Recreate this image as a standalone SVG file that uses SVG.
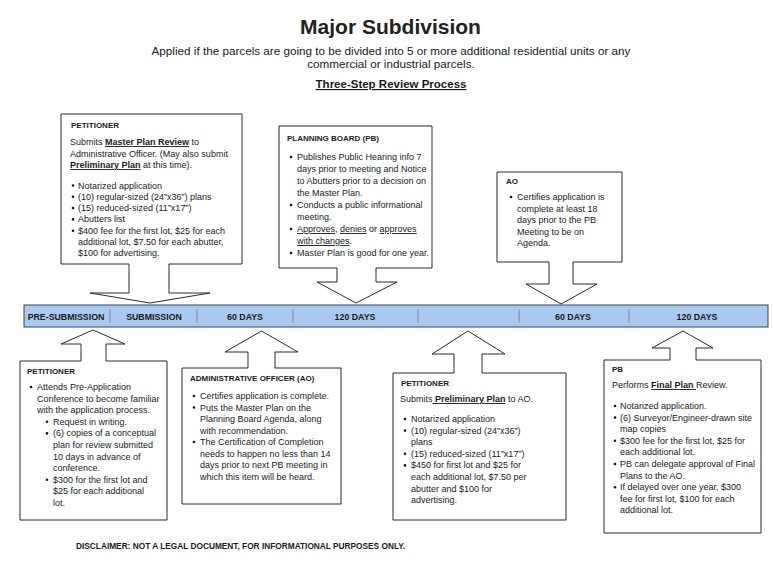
<svg xmlns="http://www.w3.org/2000/svg" width="773" height="576" viewBox="0 0 773 576">
<style>
.box{fill:#fff;stroke:#2a2a2a;stroke-width:1}
.h{font-family:"Liberation Sans",Arial,sans-serif;font-size:8px;font-weight:bold;fill:#1a1a1a}
.t{font-family:"Liberation Sans",Arial,sans-serif;font-size:9px;fill:#1a1a1a}
.bu{font-weight:bold;text-decoration:underline}
.ul{text-decoration:underline}
.dot{fill:#1a1a1a}
.bar{fill:#a9c9ee;stroke:#3a4556;stroke-width:1}
.div{stroke:#6f7c8e;stroke-width:0.8}
.bl{font-family:"Liberation Sans",Arial,sans-serif;font-size:8.8px;font-weight:bold;fill:#1a1a1a;text-anchor:middle}
</style>
<rect width="773" height="576" fill="#fff"/>
<g id="header">
<text x="390.5" y="34" text-anchor="middle" style="font-family:'Liberation Sans',Arial,sans-serif;font-size:21px;font-weight:bold;fill:#222">Major Subdivision</text>
<text x="391" y="55" text-anchor="middle" style="font-family:'Liberation Sans',Arial,sans-serif;font-size:11.7px;fill:#1a1a1a">Applied if the parcels are going to be divided into 5 or more additional residential units or any</text>
<text x="391" y="68" text-anchor="middle" style="font-family:'Liberation Sans',Arial,sans-serif;font-size:11.7px;fill:#1a1a1a">commercial or industrial parcels.</text>
<text x="391" y="88" text-anchor="middle" style="font-family:'Liberation Sans',Arial,sans-serif;font-size:11.5px;font-weight:bold;text-decoration:underline;fill:#1a1a1a">Three-Step Review Process</text>
</g>

<g id="timeline">
<rect class="bar" x="24" y="305" width="744" height="22"/>
<line class="div" x1="110" y1="309" x2="110" y2="323"/>
<line class="div" x1="197" y1="309" x2="197" y2="323"/>
<line class="div" x1="293" y1="309" x2="293" y2="323"/>
<line class="div" x1="418" y1="309" x2="418" y2="323"/>
<line class="div" x1="519" y1="309" x2="519" y2="323"/>
<line class="div" x1="629" y1="309" x2="629" y2="323"/>
<text class="bl" x="66" y="320">PRE-SUBMISSION</text>
<text class="bl" x="154" y="320">SUBMISSION</text>
<text class="bl" x="245" y="320">60 DAYS</text>
<text class="bl" x="355" y="320">120 DAYS</text>
<text class="bl" x="573" y="320">60 DAYS</text>
<text class="bl" x="697" y="320">120 DAYS</text>
</g>

<g id="petitioner-submission">
<path class="box" d="M61,114 H242 V264 H169 V293 H210 L150,303 L90,293 H129 V264 H61 Z"/>
<text class="h" x="71" y="128">PETITIONER</text>
<text class="t" x="70" y="145">Submits <tspan class="bu">Master Plan Review</tspan> to</text>
<text class="t" x="70" y="156.5">Administrative Officer.  (May also submit</text>
<text class="t" x="70" y="168"><tspan class="bu">Preliminary Plan</tspan> at this time).</text>
<circle class="dot" cx="73" cy="185.5" r="1.3"/>
<text class="t" x="78" y="188.5">Notarized application</text>
<circle class="dot" cx="73" cy="196.8" r="1.3"/>
<text class="t" x="78" y="199.8">(10) regular-sized (24”x36”) plans</text>
<circle class="dot" cx="73" cy="208.1" r="1.3"/>
<text class="t" x="78" y="211.1">(15) reduced-sized (11”x17”)</text>
<circle class="dot" cx="73" cy="219.4" r="1.3"/>
<text class="t" x="78" y="222.4">Abutters list</text>
<circle class="dot" cx="73" cy="230.7" r="1.3"/>
<text class="t" x="78" y="233.7">$400 fee for the first lot, $25 for each</text>
<text class="t" x="78" y="245">additional lot, $7.50 for each abutter,</text>
<text class="t" x="78" y="256.3">$100 for advertising.</text>
</g>

<g id="planning-board-review">
<path class="box" d="M279,126 H432 V268 H376 V282 H397 L356,303 L317,282 H337 V268 H279 Z"/>
<text class="h" x="287" y="141">PLANNING BOARD (PB)</text>
<circle class="dot" cx="291" cy="157" r="1.3"/>
<text class="t" x="297" y="160">Publishes Public Hearing info 7</text>
<text class="t" x="297" y="172">days prior to meeting and Notice</text>
<text class="t" x="297" y="184">to Abutters prior to a decision on</text>
<text class="t" x="297" y="196">the Master Plan.</text>
<circle class="dot" cx="291" cy="205" r="1.3"/>
<text class="t" x="297" y="208">Conducts a public informational</text>
<text class="t" x="297" y="220">meeting.</text>
<circle class="dot" cx="291" cy="229" r="1.3"/>
<text class="t" x="297" y="232"><tspan class="ul">Approves</tspan>, <tspan class="ul">denies</tspan> or <tspan class="ul">approves</tspan></text>
<text class="t" x="297" y="244"><tspan class="ul">with changes</tspan>.</text>
<circle class="dot" cx="291" cy="253" r="1.3"/>
<text class="t" x="297" y="256">Master Plan is good for one year.</text>
</g>

<g id="ao-certification">
<path class="box" d="M497,172 H622 V262 H573 V284 H597 L561,304 L526,284 H549 V262 H497 Z"/>
<text class="h" x="506" y="184">AO</text>
<circle class="dot" cx="511" cy="197" r="1.3"/>
<text class="t" x="517" y="200">Certifies application is</text>
<text class="t" x="517" y="211.5">complete at least 18</text>
<text class="t" x="517" y="223">days prior to the PB</text>
<text class="t" x="517" y="234.5">Meeting to be on</text>
<text class="t" x="517" y="246">Agenda.</text>
</g>

<g id="petitioner-pre-application">
<path class="box" d="M20,361 H81 V344 H61 L93,330 L125,344 H106 V361 H167 V520 H20 Z"/>
<text class="h" x="27" y="374">PETITIONER</text>
<circle class="dot" cx="31" cy="387" r="1.3"/>
<text class="t" x="37" y="390">Attends Pre-Application</text>
<text class="t" x="37" y="401.6">Conference to become familiar</text>
<text class="t" x="37" y="413.2">with the application process.</text>
<circle class="dot" cx="47" cy="421.8" r="1.3"/>
<text class="t" x="53" y="424.8">Request in writing.</text>
<circle class="dot" cx="47" cy="433.4" r="1.3"/>
<text class="t" x="53" y="436.4"> (6) copies of a conceptual</text>
<text class="t" x="53" y="448">plan for review submitted</text>
<text class="t" x="53" y="459.6">10 days in advance of</text>
<text class="t" x="53" y="471.2">conference.</text>
<circle class="dot" cx="47" cy="479.8" r="1.3"/>
<text class="t" x="53" y="482.8">$300 for the first lot and</text>
<text class="t" x="53" y="494.4">$25 for each additional</text>
<text class="t" x="53" y="506">lot.</text>
</g>

<g id="ao-completion">
<path class="box" d="M182,368 H248 V352 H225 L261.5,331 L298,352 H275 V368 H341 V504 H182 Z"/>
<text class="h" x="190" y="381">ADMINISTRATIVE OFFICER (AO)</text>
<circle class="dot" cx="194" cy="396" r="1.3"/>
<text class="t" x="200" y="399">Certifies application is complete.</text>
<circle class="dot" cx="194" cy="407.5" r="1.3"/>
<text class="t" x="200" y="410.5">Puts the Master Plan on the</text>
<text class="t" x="200" y="422">Planning Board Agenda, along</text>
<text class="t" x="200" y="433.5">with recommendation.</text>
<circle class="dot" cx="194" cy="442" r="1.3"/>
<text class="t" x="200" y="445">The Certification of Completion</text>
<text class="t" x="200" y="456.5">needs to happen no less than 14</text>
<text class="t" x="200" y="468">days prior to next PB meeting in</text>
<text class="t" x="200" y="479.5">which this item will be heard.</text>
</g>

<g id="petitioner-preliminary">
<path class="box" d="M393,373 H454 V354 H432 L468,331 L505,354 H482 V373 H566 V520 H393 Z"/>
<text class="h" x="401" y="386">PETITIONER</text>
<text class="t" x="400" y="402">Submits<tspan class="bu"> Preliminary Plan</tspan> to AO.</text>
<circle class="dot" cx="405" cy="419" r="1.3"/>
<text class="t" x="411" y="422">Notarized application</text>
<circle class="dot" cx="405" cy="430.6" r="1.3"/>
<text class="t" x="411" y="433.6">(10) regular-sized (24”x36”)</text>
<text class="t" x="411" y="445.2">plans</text>
<circle class="dot" cx="405" cy="453.8" r="1.3"/>
<text class="t" x="411" y="456.8">(15) reduced-sized (11”x17”)</text>
<circle class="dot" cx="405" cy="465.4" r="1.3"/>
<text class="t" x="411" y="468.4">$450 for first lot and $25 for</text>
<text class="t" x="411" y="480">each additional lot, $7.50 per</text>
<text class="t" x="411" y="491.6">abutter and $100 for</text>
<text class="t" x="411" y="503.2">advertising.</text>
</g>

<g id="pb-final">
<path class="box" d="M604,360 H670 V348 H652 L683,331 L713,348 H696 V360 H761 V533 H604 Z"/>
<text class="h" x="612" y="372">PB</text>
<text class="t" x="612" y="388">Performs <tspan class="bu">Final Plan </tspan>Review.</text>
<circle class="dot" cx="615" cy="406" r="1.3"/>
<text class="t" x="620" y="409">Notarized application.</text>
<circle class="dot" cx="615" cy="417.6" r="1.3"/>
<text class="t" x="620" y="420.6">(6) Surveyor/Engineer-drawn site</text>
<text class="t" x="620" y="432.2">map copies</text>
<circle class="dot" cx="615" cy="440.8" r="1.3"/>
<text class="t" x="620" y="443.8">$300 fee for the first lot, $25 for</text>
<text class="t" x="620" y="455.4">each additional lot.</text>
<circle class="dot" cx="615" cy="464" r="1.3"/>
<text class="t" x="620" y="467">PB can delegate approval of Final</text>
<text class="t" x="620" y="478.6">Plans to the AO.</text>
<circle class="dot" cx="615" cy="487.2" r="1.3"/>
<text class="t" x="620" y="490.2">If delayed over one year, $300</text>
<text class="t" x="620" y="501.8">fee for first lot, $100 for each</text>
<text class="t" x="620" y="513.4">additional lot.</text>
</g>

<g id="disclaimer">
<text x="76" y="549" style="font-family:'Liberation Sans',Arial,sans-serif;font-size:8.3px;font-weight:bold;fill:#1a1a1a">DISCLAIMER:  NOT A LEGAL DOCUMENT, FOR INFORMATIONAL PURPOSES ONLY.</text>
</g>
</svg>
